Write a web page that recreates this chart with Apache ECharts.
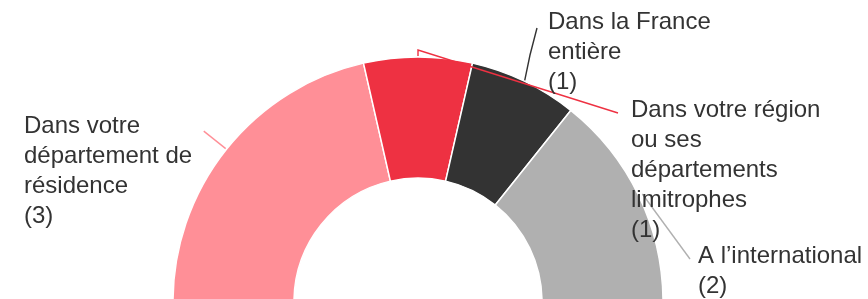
<!DOCTYPE html>
<html>
<head>
<meta charset="utf-8">
<script src="https://cdn.jsdelivr.net/npm/echarts@6/dist/echarts.min.js"></script>
<style>
  html, body { margin: 0; padding: 0; background: #fff; }
  #chart { width: 868px; height: 299px; }
</style>
</head>
<body>
<div id="chart"></div>
<script>
// data
const categories = [
  "Dans votre département de résidence",
  "Dans votre région ou ses départements limitrophes",
  "Dans la France entière",
  "A l’international",
];
const counts = [3, 1, 1, 2];
const colors = ["#ff8f97", "#ee3142", "#333333", "#b0b0b0"];

// label placement (top-left of each text block) and wrap width
const labelBoxes = [
  { x: 24, y: 111, width: 178 },
  { x: 631, y: 95, width: 190 },
  { x: 548, y: 7, width: 165 },
  { x: 698, y: 241, width: 200 },
];

const FONT = "24px 'Liberation Sans', Arial, sans-serif";

// simple word wrap using canvas text metrics
const ctx = document.createElement("canvas").getContext("2d");
ctx.font = FONT;
function wrap(text, width) {
  const words = text.split(" ");
  const lines = [];
  let cur = "";
  words.forEach((w) => {
    const test = cur ? cur + " " + w : w;
    if (cur && ctx.measureText(test).width > width) {
      lines.push(cur);
      cur = w;
    } else {
      cur = test;
    }
  });
  if (cur) lines.push(cur);
  return lines.join("\n");
}

function outward(p, cx, cy, d) {
  const dx = p[0] - cx, dy = p[1] - cy;
  const len = Math.sqrt(dx * dx + dy * dy);
  return [p[0] + dx / len * d, p[1] + dy / len * d];
}

const element = document.getElementById("chart");
const myChart = echarts.init(element);

const center = [418, 302];
const radius = [124, 245];

const pieBase = {
  type: "pie",
  center: center,
  radius: radius,
  startAngle: 180,
  endAngle: 0,
  clockwise: true,
  avoidLabelOverlap: false,
};

const option = {
  animation: false,
  series: [
    // the slices
    {
      ...pieBase,
      z: 2,
      itemStyle: {
        borderColor: "#fff",
        borderWidth: 1.5,
      },
      label: { show: false },
      labelLine: { show: false },
      data: categories.map((name, i) => ({
        name: name,
        value: counts[i],
        itemStyle: { color: colors[i] },
      })),
    },
    // same geometry, transparent: labels + lines on top of all slices
    {
      ...pieBase,
      z: 5,
      silent: true,
      itemStyle: { color: "rgba(0,0,0,0)" },
      label: {
        show: true,
        position: "outside",
        color: "#333",
        fontFamily: "Liberation Sans, Arial, sans-serif",
        fontSize: 24,
        lineHeight: 30,
        formatter: (p) => wrap(p.name, labelBoxes[p.dataIndex].width) + "\n(" + p.value + ")",
      },
      labelLine: {
        show: true,
        length: 20,
        length2: 20,
        lineStyle: { width: 1.4 },
      },
      labelLayout: (params) => {
        const i = params.dataIndex;
        const box = labelBoxes[i];
        const p0 = params.labelLinePoints ? params.labelLinePoints[0] : null;
        let pts;
        if (p0) {
          if (i === 0) {
            const a = outward(p0, center[0], center[1], 1);
            const b = outward(p0, center[0], center[1], 29);
            pts = [a, b, b];
          } else if (i === 1) {
            const a = outward(p0, center[0], center[1], 1);
            const b = outward(p0, center[0], center[1], 7);
            pts = [a, b, [618, 113]];
          } else if (i === 2) {
            const a = outward(p0, center[0], center[1], 1);
            pts = [a, [530, 55], [537, 28]];
          } else {
            const a = outward(p0, center[0], center[1], 4);
            pts = [a, a, [690, 259]];
          }
        }
        return {
          x: box.x,
          y: box.y,
          align: "left",
          verticalAlign: "top",
          labelLinePoints: pts,
        };
      },
      data: categories.map((name, i) => ({
        name: name,
        value: counts[i],
        labelLine: { lineStyle: { color: colors[i] } },
      })),
    },
  ],
};

myChart.setOption(option);
</script>
</body>
</html>
